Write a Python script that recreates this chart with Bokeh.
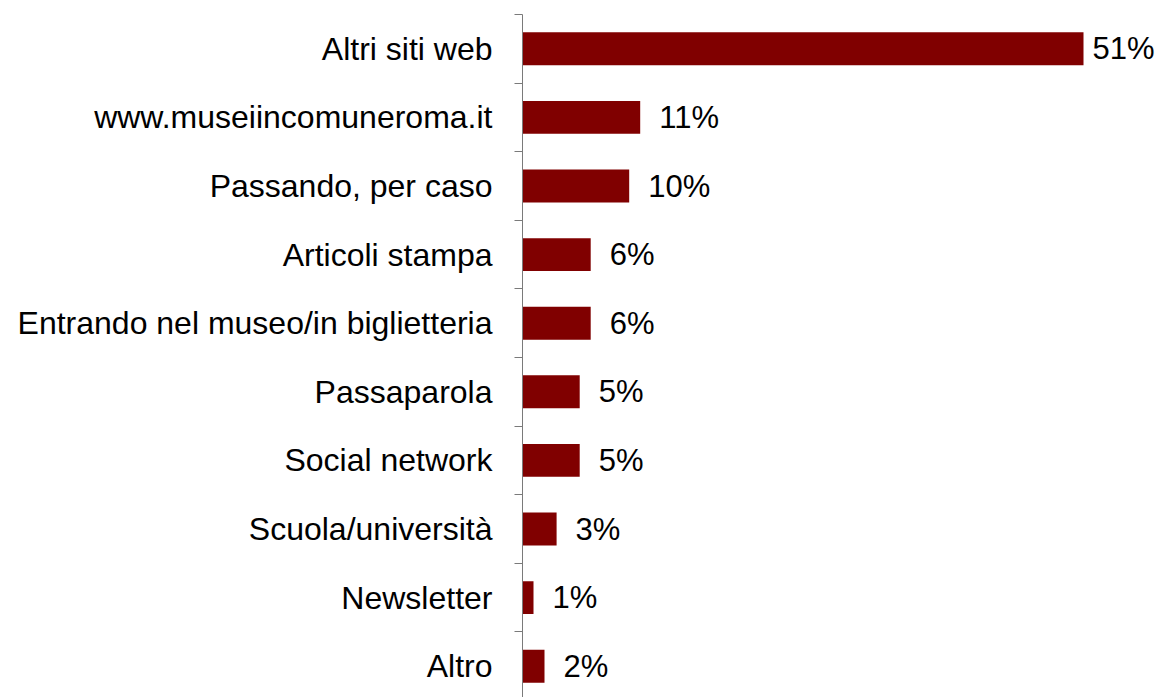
from bokeh.plotting import figure
from bokeh.models import ColumnDataSource, Range1d, FixedTicker
from bokeh.core.properties import value
from bokeh.embed import file_html
from bokeh.resources import INLINE

categories = ["Altri siti web", "www.museiincomuneroma.it", "Passando, per caso",
              "Articoli stampa", "Entrando nel museo/in biglietteria", "Passaparola",
              "Social network", "Scuola/università", "Newsletter", "Altro"]
values = [51.0, 10.7, 9.7, 6.2, 6.2, 5.2, 5.2, 3.1, 1.0, 2.0]
value_labels = ["51%", "11%", "10%", "6%", "6%", "5%", "5%", "3%", "1%", "2%"]

n = len(categories)
idx = list(range(n))
offsets = [9 if v == max(values) else 19 for v in values]

src = ColumnDataSource(dict(y=idx, v=values, lab=value_labels, off=offsets))

FONT = "Liberation Sans"
PX_PER_UNIT = 11.0
FW, FH = 636, 683

p = figure(frame_width=FW, frame_height=FH,
           x_range=Range1d(0, FW / PX_PER_UNIT),
           y_range=Range1d(-0.5 + FH / 68.6, -0.5),
           output_backend="svg", toolbar_location=None,
           x_axis_location=None, y_axis_location="left",
           min_border_left=522, min_border_top=14,
           min_border_right=0, min_border_bottom=0)
p.outline_line_color = None
p.xgrid.visible = False
p.ygrid.visible = False
p.background_fill_color = "white"
p.border_fill_color = "white"

p.hbar(y="y", left=0, right="v", height=0.48, source=src,
       fill_color="#800000", line_color=None)

p.text(x="v", y="y", text="lab", x_offset="off", source=src,
       text_baseline="middle", text_align="left",
       text_font=value(FONT), text_font_size="31px", text_color="black")

ax = p.yaxis[0]
ax.ticker = FixedTicker(ticks=idx, minor_ticks=[i - 0.5 for i in idx])
ax.major_label_overrides = {i: c for i, c in enumerate(categories)}
ax.major_tick_line_color = None
ax.major_tick_out = 8
ax.major_tick_in = 0
ax.minor_tick_out = 8
ax.minor_tick_in = 0
ax.minor_tick_line_color = "#7a7a7a"
ax.axis_line_color = "#7a7a7a"
ax.axis_line_width = 1
ax.major_label_standoff = 22
ax.major_label_text_font = FONT
ax.major_label_text_font_size = "32px"
ax.major_label_text_color = "black"

open("out.html", "w").write(file_html(p, INLINE))
